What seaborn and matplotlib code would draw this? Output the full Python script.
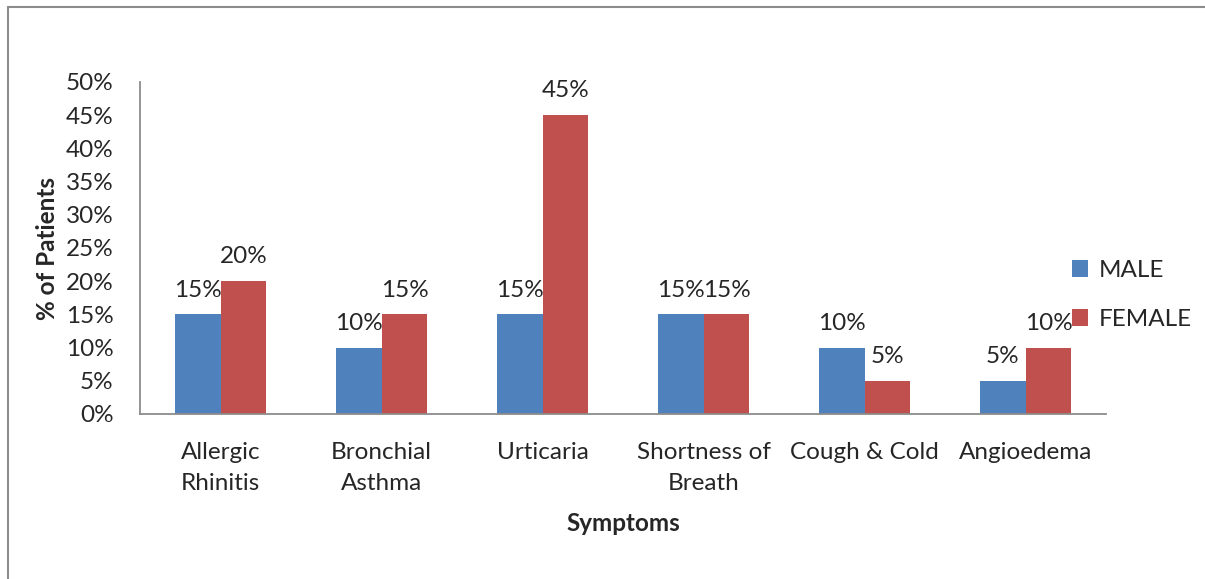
import matplotlib
matplotlib.use("Agg")
import matplotlib.pyplot as plt
import seaborn as sns
import pandas as pd
from matplotlib.lines import Line2D

categories = ["Allergic\nRhinitis", "Bronchial\nAsthma", "Urticaria", "Shortness of\nBreath", "Cough & Cold", "Angioedema"]
male = [15, 10, 15, 15, 10, 5]
female = [20, 15, 45, 15, 5, 10]
series = ["MALE", "FEMALE"]
yticks = [0, 5, 10, 15, 20, 25, 30, 35, 40, 45, 50]

rows = []
for c, m, f in zip(categories, male, female):
    rows.append({"Symptom": c, "Gender": "MALE", "Value": m})
    rows.append({"Symptom": c, "Gender": "FEMALE", "Value": f})
df = pd.DataFrame(rows)

sns.set_style("white")
plt.rcParams["font.family"] = ["Lato", "DejaVu Sans"]

FS = 17.5
fig = plt.figure(figsize=(12.05, 5.79), dpi=100)
ax = fig.add_axes([140/1205, 1 - 414/579, 966/1205, (414-82)/579])

sns.barplot(data=df, x="Symptom", y="Value", hue="Gender", order=categories,
            hue_order=series, palette={"MALE": "#4F81BD", "FEMALE": "#C0504D"},
            width=0.57, saturation=1, linewidth=0, ax=ax, legend=True)

ax.set_ylim(0, 50)
ax.set_xlim(-0.5, len(categories) - 0.5)
ax.set_yticks(yticks)
ax.set_yticklabels([f"{v}%" for v in yticks], fontsize=FS)
ax.tick_params(axis="y", length=0, pad=19)
ax.tick_params(axis="x", length=0, pad=20, labelsize=FS)
for lab in ax.get_xticklabels():
    lab.set_linespacing(1.6)

for cont in ax.containers:
    ax.bar_label(cont, labels=[f"{v:.0f}%" for v in cont.datavalues],
                 fontsize=FS, padding=10)

for s in ["top", "right"]:
    ax.spines[s].set_visible(False)
for s in ["left", "bottom"]:
    ax.spines[s].set_color("#8c8c8c")
    ax.spines[s].set_linewidth(1.3)

ax.set_ylabel("% of Patients", fontsize=FS, fontweight="bold", labelpad=5)
ax.set_xlabel("Symptoms", fontsize=FS, fontweight="bold", labelpad=13)

ax.legend(loc="center left", frameon=False, fontsize=FS, handlelength=0.65,
          handleheight=0.65, handletextpad=0.45, labelspacing=1.15,
          borderaxespad=0, borderpad=0)
ax.get_legend().set_bbox_to_anchor((1072/1205, 1 - 295/579), transform=fig.transFigure)

# outer border (top and left visible)
fig.add_artist(Line2D([8/1205, 8/1205], [0, 1 - 7/579], color="#8c8c8c", lw=1.5, transform=fig.transFigure))
fig.add_artist(Line2D([8/1205, 1], [1 - 7/579, 1 - 7/579], color="#8c8c8c", lw=1.5, transform=fig.transFigure))

fig.savefig("out.png", dpi=100)
